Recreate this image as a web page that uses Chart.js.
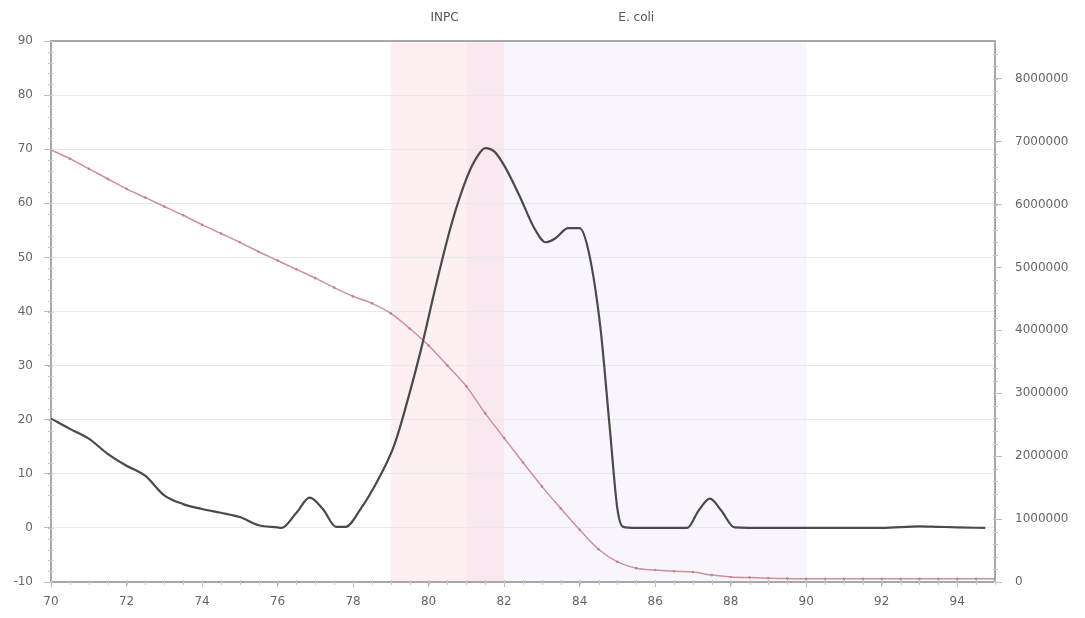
<!DOCTYPE html>
<html><head><meta charset="utf-8">
<script src="https://cdn.jsdelivr.net/npm/chart.js@4.4.0/dist/chart.umd.min.js"></script>
<style>html,body{margin:0;padding:0;background:#fff}#wrap{width:1085px;height:618px}</style>
</head><body><div id="wrap"><canvas id="c" width="1085" height="618"></canvas></div>
<script>
// Melt curve (left axis)
const meltX = [70,70.5,71,71.5,72,72.5,73,73.5,74,74.5,75,75.5,76,76.1,76.5,76.85,77.2,77.55,77.8,78.2,78.7,79.1,79.5,79.8,80.2,80.6,81,81.25,81.5,81.75,82,82.4,82.8,83.1,83.35,83.7,84,84.25,84.55,84.8,85,85.15,85.5,86,86.5,86.85,87.15,87.45,87.75,88.1,89,90,91,92,93,93.5,94,94.74];
const meltY = [20.2,18.3,16.5,13.7,11.5,9.6,6.0,4.4,3.5,2.8,2.0,0.5,0.1,0,2.8,5.6,3.5,0.2,0.2,3.5,9.4,15.5,25,33,45,56,64.5,68.2,70.2,69.5,67,61.5,55.4,52.8,53.5,55.4,55.4,50.7,37,18.3,3.5,0.2,0,0,0,0,3.2,5.4,3.2,0.1,0,0,0,0,0.3,0.2,0.1,0];
// Fluorescence (right axis)
const fluorX = [70,70.5,71,71.5,72,72.5,73,73.5,74,74.5,75,75.5,76,76.5,77,77.5,78,78.5,79,79.5,80,80.5,81,81.5,82,82.5,83,83.5,84,84.5,85,85.5,86,86.5,87,87.5,88,88.5,89,89.5,90,90.5,91,91.5,92,92.5,93,93.5,94,94.5,95];
const fluorY = [6870000,6730000,6570000,6410000,6250000,6110000,5970000,5830000,5680000,5540000,5400000,5250000,5110000,4970000,4830000,4680000,4540000,4430000,4270000,4030000,3760000,3440000,3110000,2680000,2290000,1900000,1520000,1170000,830000,520000,320000,220000,190000,170000,160000,110000,80000,70000,60000,55000,50000,50000,50000,50000,50000,50000,50000,50000,50000,50000,50000];
// Ticks
const xTickLabels = [70,72,74,76,78,80,82,84,86,88,90,92,94];
const yTickLabels = [-10,0,10,20,30,40,50,60,70,80,90];
const y2TickLabels = [0,1000000,2000000,3000000,4000000,5000000,6000000,7000000,8000000];
// Bands
const bandNames = ['INPC','E. coli'];
const bandFrom = [79,81];
const bandTo = [82,90];
const bandColors = ['rgba(246,190,202,0.24)','rgba(226,206,238,0.2)'];

const FONT = {family:'DejaVu Sans', size:12};
const TXT = '#666';

const bandsPlugin = {
  id:'bands',
  beforeDraw(chart){
    const {ctx, chartArea:a, scales:{x}} = chart;
    ctx.save();
    for(let i=bandNames.length-1;i>=0;i--){
      const l = x.getPixelForValue(bandFrom[i]), r = x.getPixelForValue(bandTo[i]);
      ctx.fillStyle = bandColors[i];
      ctx.fillRect(l, a.top, r-l, a.bottom-a.top);
    }
    ctx.restore();
  },
  afterDraw(chart){
    const {ctx, chartArea:a, scales:{x,y,y2}} = chart;
    ctx.save();
    ctx.font = '12px "DejaVu Sans"';
    ctx.fillStyle = '#555';
    ctx.textAlign='center'; ctx.textBaseline='middle';
    for(let i=0;i<bandNames.length;i++){
      const c = (x.getPixelForValue(bandFrom[i])+x.getPixelForValue(bandTo[i]))/2;
      ctx.fillText(bandNames[i], c - (i===0?3:0), 18);
    }
    // top border
    ctx.strokeStyle='#a8a8a8'; ctx.lineWidth=2;
    ctx.beginPath(); ctx.moveTo(a.left, a.top); ctx.lineTo(a.right, a.top); ctx.stroke();
    // minor ticks
    ctx.strokeStyle='#c4c4c4'; ctx.lineWidth=1;
    ctx.beginPath();
    for(let v=-10; v<=90; v+=2){ const p=Math.round(y.getPixelForValue(v))+0.5; ctx.moveTo(a.left-3,p); ctx.lineTo(a.left+2,p); }
    for(let v=0; v<=8500000; v+=200000){ const p=Math.round(y2.getPixelForValue(v))+0.5; ctx.moveTo(a.right-2,p); ctx.lineTo(a.right+3,p); }
    for(let v=70; v<=95; v+=0.5){ const p=Math.round(x.getPixelForValue(v))+0.5; ctx.moveTo(p,a.bottom-2); ctx.lineTo(p,a.bottom+3); }
    ctx.stroke();
    ctx.restore();
  }
};

new Chart(document.getElementById('c'), {
  type:'line',
  data:{datasets:[
    {label:'Melt', data: meltX.map((v,i)=>({x:v,y:meltY[i]})), yAxisID:'y', borderColor:'#4a4a4a', borderWidth:2.2, pointRadius:0, cubicInterpolationMode:'monotone', order:1},
    {label:'Fluorescence', data: fluorX.map((v,i)=>({x:v,y:fluorY[i]})), yAxisID:'y2', borderColor:'rgba(200,140,152,0.95)', borderWidth:1.5, pointRadius:1.3, pointBackgroundColor:'rgba(195,130,145,1)', pointBorderWidth:0, cubicInterpolationMode:'monotone', order:2}
  ]},
  options:{
    responsive:false, animation:false, devicePixelRatio:1,
    layout:{padding:{top:41,left:0,right:0,bottom:0}},
    plugins:{legend:{display:false}, tooltip:{enabled:false}},
    scales:{
      x:{type:'linear', min:70, max:95,
        afterBuildTicks(s){ s.ticks = xTickLabels.map(v=>({value:v})); },
        afterFit(s){ s.height = 36; },
        ticks:{font:FONT, color:TXT, padding:8, maxRotation:0, autoSkip:false},
        grid:{drawOnChartArea:false, tickLength:5, tickColor:'#bbb'},
        border:{color:'#a8a8a8', width:2}
      },
      y:{type:'linear', position:'left', min:-10, max:90,
        afterBuildTicks(s){ s.ticks = yTickLabels.map(v=>({value:v})); },
        afterFit(s){ s.width = 51; },
        ticks:{font:FONT, color:TXT, padding:11},
        grid:{color:'#e9e9e9', tickLength:7, tickColor:'#bbb'},
        border:{color:'#a8a8a8', width:2}
      },
      y2:{type:'linear', position:'right', min:0, max:8600000,
        afterBuildTicks(s){ s.ticks = y2TickLabels.map(v=>({value:v})); },
        afterFit(s){ s.width = 90; },
        ticks:{font:FONT, color:TXT, padding:13, callback:v=>String(v)},
        grid:{drawOnChartArea:false, tickLength:7, tickColor:'#bbb'},
        border:{color:'#a8a8a8', width:2}
      }
    }
  },
  plugins:[bandsPlugin]
});
</script></body></html>
